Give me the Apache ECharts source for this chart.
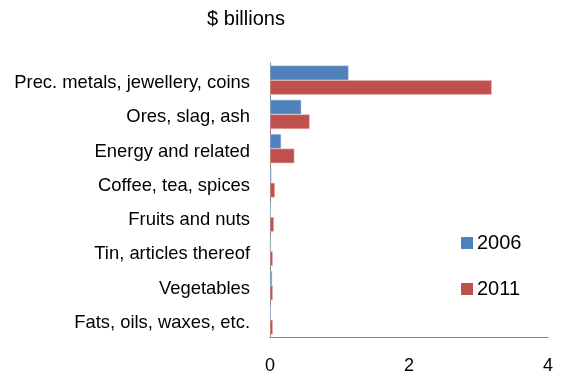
<!DOCTYPE html>
<html><head><meta charset="utf-8">
<script src="https://cdn.jsdelivr.net/npm/echarts@6/dist/echarts.min.js"></script>
<style>html,body{margin:0;padding:0;background:#fff}#c{width:561px;height:377px}</style>
</head><body><div id="c"></div>
<script>
const categories = ["Prec. metals, jewellery, coins","Ores, slag, ash","Energy and related","Coffee, tea, spices","Fruits and nuts","Tin, articles thereof","Vegetables","Fats, oils, waxes, etc."];
const values2006 = [1.13, 0.45, 0.16, 0.02, 0.01, 0.005, 0.03, 0.01];
const values2011 = [3.19, 0.57, 0.35, 0.07, 0.055, 0.04, 0.04, 0.04];
const xTicks = [0, 2, 4];
const chart = echarts.init(document.getElementById('c'), null, {renderer:'canvas'});
const font = 'Liberation Sans, Arial, sans-serif';
chart.setOption({
  animation:false,
  title:{text:'$ billions', left:241, top:4, textAlign:'center', textStyle:{fontFamily:font, fontSize:20, fontWeight:'normal', color:'#000'}},
  legend:{orient:'vertical', left:456, top:228, itemGap:26, itemWidth:12, itemHeight:12, icon:'rect', itemStyle:{borderWidth:0},
    textStyle:{fontFamily:font, fontSize:20, color:'#000', padding:[0,0,0,-1]}, data:['2006','2011']},
  grid:{left:270, right:13, top:63, bottom:40},
  xAxis:{type:'value', min:xTicks[0], max:xTicks[xTicks.length-1], interval:2,
    axisLine:{show:true, lineStyle:{color:'#868686'}}, axisTick:{show:false}, splitLine:{show:false},
    axisLabel:{fontFamily:font, fontSize:18, color:'#000', margin:20}},
  yAxis:{type:'category', data:categories, inverse:true,
    axisLine:{show:true, lineStyle:{color:'#868686'}}, axisTick:{show:false},
    axisLabel:{fontFamily:font, fontSize:18.4, color:'#000', margin:20, verticalAlign:'top', lineHeight:6}},
  series:[
    {name:'2006', type:'bar', data:values2006, barGap:'0%', barCategoryGap:'15%',
      itemStyle:{color:'#4F81BD', borderColor:'#B9CDE5', borderWidth:0.5}},
    {name:'2011', type:'bar', data:values2011, barGap:'0%', barCategoryGap:'15%',
      itemStyle:{color:'#C0504D', borderColor:'#E6B9B8', borderWidth:0.5}}
  ]
});
</script></body></html>
